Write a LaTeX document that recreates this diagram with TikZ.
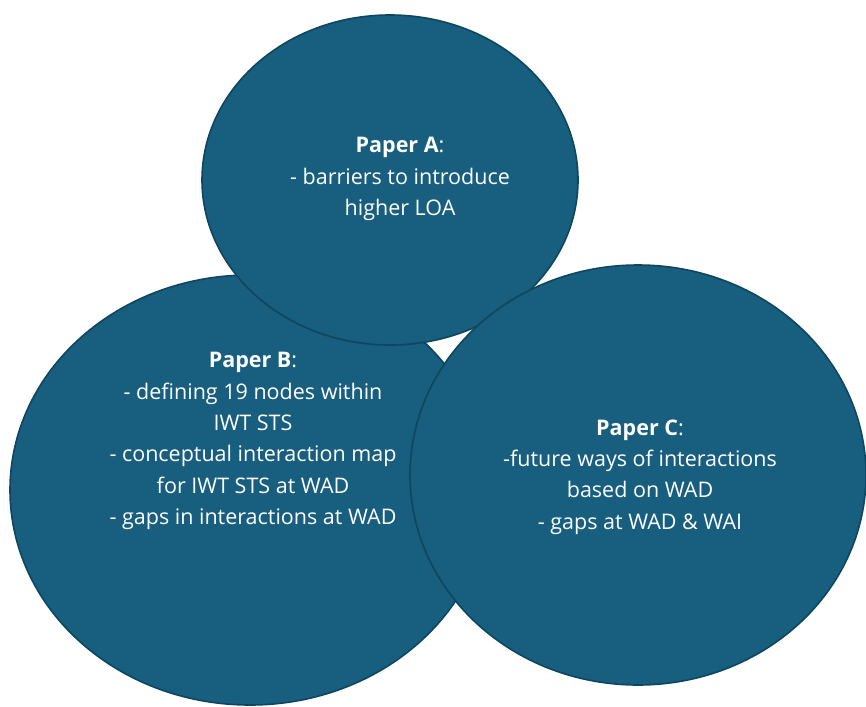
\documentclass[tikz,border=0pt]{standalone}
\usepackage{fontspec}
\setmainfont{Open Sans}
\usetikzlibrary{shapes.geometric}
\definecolor{paperfill}{HTML}{175E7F}
\definecolor{paperline}{HTML}{0E4660}
\tikzset{
  paper/.style={draw=paperline, line width=1.6pt, fill=paperfill, ellipse, inner sep=0pt},
  papertext/.style={text=white, align=center, font=\fontsize{21.5}{31.3}\selectfont}
}
\begin{document}
\begin{tikzpicture}[x=1pt,y=-1pt]
\useasboundingbox (0,0) rectangle (866,706);
\node[paper, minimum width=480pt, minimum height=430pt] (B) at (250,490) {};
\node[paper, minimum width=376pt, minimum height=330pt] (A) at (390,180) {};
\node[paper, minimum width=456pt, minimum height=420pt] (C) at (638,475) {};

\node[papertext] (textA) at (400,179) {\textbf{Paper A}:\\- barriers to introduce\\higher LOA};
\node[papertext] (textB) at (253,441) {\textbf{Paper B}:\\- defining 19 nodes within\\IWT STS\\- conceptual interaction map\\for IWT STS at WAD\\- gaps in interactions at WAD};
\node[papertext] (textC) at (640,477) {\textbf{Paper C}:\\-future ways of interactions\\based on WAD\\- gaps at WAD \& WAI};
\end{tikzpicture}
\end{document}
